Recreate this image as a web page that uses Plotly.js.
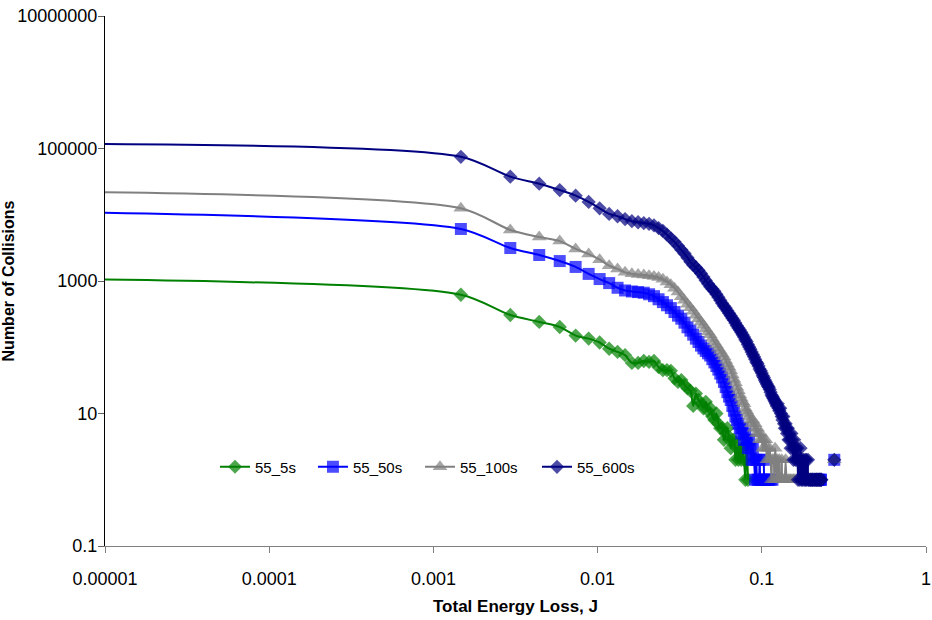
<!DOCTYPE html>
<html>
<head>
<meta charset="utf-8">
<script src="https://cdn.plot.ly/plotly-3.0.1.min.js"></script>
<style>
  html, body { margin: 0; padding: 0; background: #ffffff; }
  #chart { width: 932px; height: 620px; }
</style>
</head>
<body>
<div id="chart"></div>
<script>
// ---- data ----
// energy-loss bins (J) : bin n sits at n * BIN_WIDTH
const BIN_WIDTH = 0.00147;
// value where each curve enters at the left edge of the plot (x = 0.00001)
const LEFT_X = 0.00001;
const seriesNames = ["55_5s", "55_50s", "55_100s", "55_600s"];
const leftEdge = [1050, 10700, 21800, 117000];

// counts per bin (bin 1, 2, 3, ...); null = empty bin
const counts5s = [
  620, 307, 241, 202, 150, 135, 118, 95, 85, 76,
  58, 58, 62, 60, 62, 50, 45, 45, 44, 34,
  30, 32, 27, 24, 22, 13, 20, 16, 14, 12,
  15, 11, 12, 9, 8, 10, 7, 6, 6, 4,
  5, 6, 4, 3, 4, 4, 2, 3, 2, 3,
  2, 3, 2, 1, 4, 1, null, null, null, null,
  null, 2
];
const counts50s = [
  6100, 3150, 2470, 2000, 1630, 1280, 1070, 930, 790, 720,
  695, 680, 665, 630, 590, 530, 480, 430, 390, 340,
  300, 270, 235, 200, 178, 155, 135, 120, 106, 96,
  88, 81, 75, 66, 59, 52, 46, 40, 35, 30,
  25, 21, 18, 16, 13, 11, 9, 8, 7, 6,
  5, 6, 4, 5, 4, 3, 4, 3, 2, 3,
  2, 1, 2, 1, 1, 2, 1, 1, null, 2,
  1, 1, null, 1, 1, null, 1, null, 1, null,
  null, null, null, null, null, null, null, null, null, null,
  null, null, null, null, null, null, null, null, null, null,
  null, null, null, null, null, null, null, null, null, null,
  null, null, null, null, null, null, null, null, null, null,
  null, null, null, null, null, null, null, null, null, null,
  null, null, null, null, null, null, null, null, null, null,
  null, null, null, null, null, null, null, null, null, 1,
  null, 1, null, null, 1, 1, null, null, null, null,
  null, null, null, null, null, null, null, null, null, null,
  null, null, null, null, null, null, null, null, null, null,
  null, null, null, null, null, null, null, 2
];
const counts100s = [
  12500, 5900, 4600, 4000, 3050, 2550, 2100, 1700, 1520, 1350,
  1290, 1250, 1230, 1200, 1170, 1130, 1060, 970, 880, 780,
  680, 580, 510, 445, 395, 350, 305, 270, 240, 215,
  190, 170, 155, 135, 120, 108, 97, 88, 79, 72,
  63, 56, 50, 44, 38, 33, 29, 25, 22, 19,
  17, 15, 14, 12, 11, 10, 9, 8, 7, 8,
  6, 7, 5, 6, 5, 4, 5, 4, 3, 4,
  3, 4, 2, 3, 2, 3, 2, 1, 2, 2,
  1, 3, 2, 1, 2, 1, 2, 1, 1, 2,
  1, 1, null, 1, 2, 1, null, 1, 1, null,
  1, 1, null, 1, null, 1, 1, null, null, 1,
  null, 1, null, null, 1, null, null, null, null, null,
  null, null, null, null, null, null, null, null, null, null,
  null, null, null, null, null, null, null, null, null, null,
  null, null, null, null, null, null, null, null, null, null,
  null, null, null, null, null, null, null, null, null, null,
  null, null, null, null, null, null, null, null, null, null,
  null, null, null, null, null, null, null, null, null, null,
  null, null, null, null, null, null, null, 2
];
const counts600s = [
  75000, 37600, 29400, 23600, 19400, 15600, 12500, 10300, 9500, 8600,
  8000, 7700, 7500, 7300, 6900, 6300, 5700, 5000, 4400, 3900,
  3400, 2950, 2600, 2250, 1950, 1750, 1600, 1450, 1300, 1150,
  1020, 910, 820, 760, 700, 630, 570, 510, 460, 420,
  390, 355, 325, 300, 275, 255, 232, 212, 196, 182,
  168, 155, 143, 130, 122, 110, 101, 93, 85, 78,
  72, 66, 60, 57, 52, 47, 44, 41, 37, 35,
  32, 30, 28, 26, 25, 23, 21, 19, 18, 17,
  16, 15, 14, 13, 14, 12, 11, 12, 10, 9,
  8, 9, 7, 6, 7, 6, 5, 6, 4, 5,
  4, 3, 5, 4, 3, 2, 4, 3, 2, 3,
  2, 3, 1, 2, 2, 1, 3, 2, 1, 2,
  1, 2, null, 1, 2, 1, 2, 1, null, 2,
  1, 1, null, 1, 1, null, 1, 1, 1, null,
  1, null, 1, 1, null, 1, 1, null, 1, 1,
  null, 1, 1, null, 1, 1, 1, null, null, null,
  null, null, null, null, null, null, null, null, null, null,
  null, null, null, null, null, null, null, null, null, null,
  null, null, null, null, null, null, null, 2
];

const xTickVals = [0.00001, 0.0001, 0.001, 0.01, 0.1, 1];
const xTickText = ["0.00001", "0.0001", "0.001", "0.01", "0.1", "1"];
const yTickVals = [0.1, 10, 1000, 100000, 10000000];
const yTickText = ["0.1", "10", "1000", "100000", "10000000"];

// ---- styling ----
const colors = ["#008000", "#0000FF", "#808080", "#000080"];
const symbols = ["diamond", "square", "triangle-up", "diamond"];
const msizes = [11, 12, 13, 11];
const legendIds = ["legend", "legend2", "legend3", "legend4"];
const legendX = [0.134, 0.2533, 0.3837, 0.5262];
const allCounts = [counts5s, counts50s, counts100s, counts600s];

const traces = allCounts.map((cnt, s) => {
  const x = [LEFT_X].concat(cnt.map((_, i) => (i + 1) * BIN_WIDTH));
  const y = [leftEdge[s]].concat(cnt);
  const sizes = [0].concat(cnt.map(() => msizes[s]));
  return {
    type: "scatter",
    mode: "lines+markers",
    name: seriesNames[s],
    legend: legendIds[s],
    x: x,
    y: y,
    line: { color: colors[s], width: 2, shape: "spline", smoothing: 0.8 },
    marker: { symbol: symbols[s], size: sizes, color: colors[s], line: { width: 0 } },
    connectgaps: false
  };
});

const FONT = "Liberation Sans, Arial, sans-serif";

const layout = {
  width: 932,
  height: 620,
  paper_bgcolor: "#ffffff",
  plot_bgcolor: "#ffffff",
  margin: { l: 105, r: 6, t: 16, b: 74, pad: 0 },
  showlegend: true,
  xaxis: {
    type: "log",
    range: [-5, 0],
    tickmode: "array",
    tickvals: xTickVals,
    ticktext: xTickText,
    ticks: "outside",
    ticklen: 6,
    tickcolor: "#808080",
    showline: true,
    linecolor: "#808080",
    linewidth: 1,
    showgrid: false,
    zeroline: false,
    ticklabelstandoff: 10,
    tickfont: { family: FONT, size: 18, color: "#000000" },
    title: { text: "<b>Total Energy Loss, J</b>", font: { family: FONT, size: 17, color: "#000000" }, standoff: 12 },
    automargin: false
  },
  yaxis: {
    type: "log",
    range: [-1, 7],
    tickmode: "array",
    tickvals: yTickVals,
    ticktext: yTickText,
    ticks: "outside",
    ticklen: 6,
    tickcolor: "#606060",
    showline: true,
    linecolor: "#000000",
    linewidth: 1,
    showgrid: false,
    zeroline: false,
    ticklabelstandoff: -3,
    tickfont: { family: FONT, size: 18, color: "#000000" },
    title: { text: "<b>Number of Collisions</b>", font: { family: FONT, size: 16, color: "#000000" }, standoff: 0 },
    automargin: false
  }
};

legendIds.forEach((id, s) => {
  layout[id] = {
    orientation: "h",
    x: legendX[s], xanchor: "left",
    y: 0.149, yanchor: "middle",
    font: { family: FONT, size: 15, color: "#000000" },
    bgcolor: "rgba(0,0,0,0)",
    borderwidth: 0
  };
});

Plotly.newPlot("chart", traces, layout, { displayModeBar: false, staticPlot: true });
</script>
</body>
</html>
